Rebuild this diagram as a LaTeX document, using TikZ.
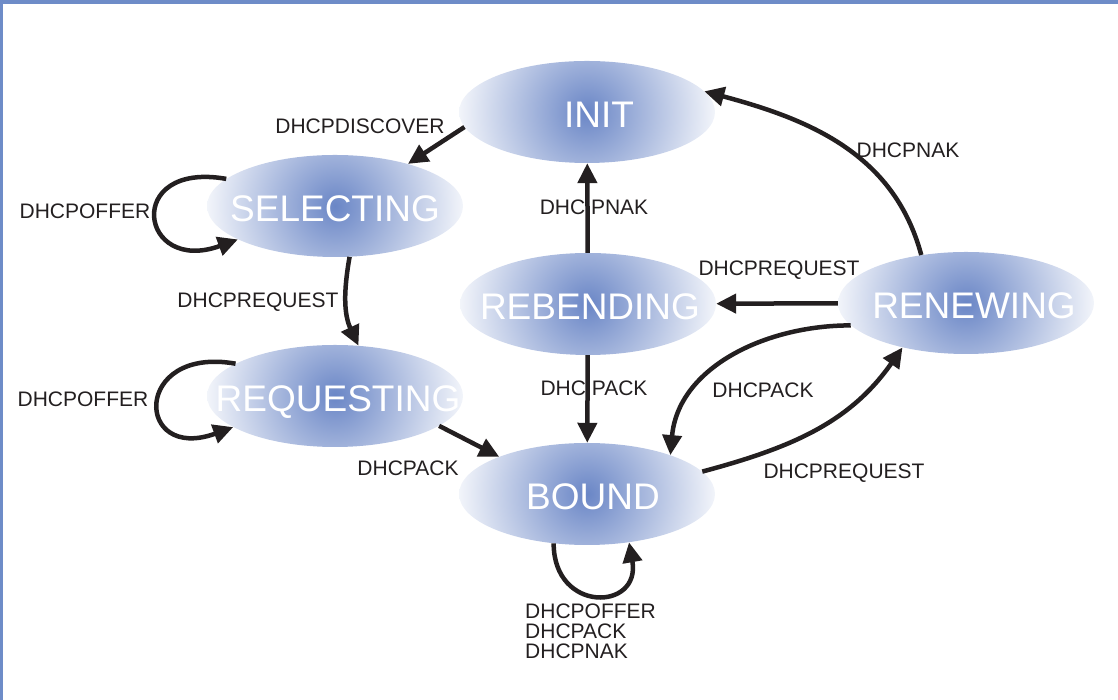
\documentclass[tikz,border=0pt]{standalone}
\usepackage{fontspec}
\setmainfont{Liberation Sans}
\usetikzlibrary{shapes.geometric,arrows.meta}

\definecolor{frameblue}{RGB}{110,140,200}
\definecolor{stateblue}{RGB}{106,134,198}
\definecolor{ink}{RGB}{35,31,32}

\tikzset{
  state/.style={ellipse, minimum width=256pt, minimum height=102pt, inner sep=0pt,
    text=white, font=\fontsize{37}{37}\selectfont,
    path picture={\shade[inner color=stateblue, outer color=white]
      (path picture bounding box.center) circle (140pt);}},
  msg/.style={text=ink, font=\fontsize{21}{20}\selectfont, inner sep=0pt},
  trans/.style={draw=ink, line width=4.5pt, ->},
}
% 状态名: 宽度为零, 可水平微调, 略向下
\newcommand{\st}[2][0pt]{\raisebox{-2.5pt}[\height][0pt]{\makebox[0pt]{\hspace*{#1}#2\hspace*{-#1}}}}

\begin{document}
\begin{tikzpicture}[x=1pt, y=1pt, >={Triangle[length=20pt,width=19pt]}]

% 画布与蓝色边框
\useasboundingbox (0,0) rectangle (1118,700);
\fill[frameblue] (0,696) rectangle (1118,700);
\fill[frameblue] (0,0) rectangle (3,700);

% 状态
\node (init)       [state] at (587,588) {\st[12pt]{INIT}};
\node (selecting)  [state] at (335,494) {\st{SELECTING}};
\node (requesting) [state] at (335,304) {\st[3pt]{REQUESTING}};
\node (rebending)  [state] at (588,396) {\st[2pt]{REBENDING}};
\node (renewing)   [state] at (966,397) {\st[8pt]{RENEWING}};
\node (bound)      [state] at (587,206) {\st[6pt]{BOUND}};

% 状态转移
\draw[trans] (init.187) -- (selecting.30);
\draw[trans] (selecting.166) to[out=170, in=200, distance=105pt] (selecting.199);
\draw[trans] (selecting.286) to[out=-100, in=115] (requesting.65);
\draw[trans] (requesting.162) to[out=170, in=200, distance=105pt] (requesting.197);
\draw[trans] (requesting.344) -- (bound.157);
\draw[trans] (rebending) -- (init);
\draw[trans] (rebending) -- (bound);
\draw[trans] (renewing) -- (rebending);
\draw[trans] (renewing.133) to[out=105, in=-15] (init.10);
\draw[trans] (renewing.191) to[out=180, in=85] (bound.25);
\draw[trans] (bound.11) to[out=15, in=235] (renewing.215);
\draw[trans] (bound.236) to[out=-90, in=-80, distance=70pt] (bound.311);

% 报文标注
\node (mdiscover) [msg] at (360,574) {DHCPDISCOVER};
\node (mofferA)   [msg] at (85,489)  {DHCPOFFER};
\node (mrequestA) [msg] at (258,398) {DHCPREQUEST};
\node (mofferB)   [msg] at (83,301)  {DHCPOFFER};
\node (mackA)     [msg] at (408,232) {DHCPACK};
\node (mnakA)     [msg] at (594,493) {DHC PNAK};
\node (mackB)     [msg] at (594,312) {DHC PACK};
\node (mrequestB) [msg] at (779,430) {DHCPREQUEST};
\node (mnakB)     [msg] at (908,550) {DHCPNAK};
\node (mackC)     [msg] at (763,310) {DHCPACK};
\node (mrequestC) [msg] at (844,227) {DHCPREQUEST};
\node (mbound)    [msg, align=left, anchor=west] at (525,69)
  {DHCPOFFER\\DHCPACK\\DHCPNAK};

\end{tikzpicture}
\end{document}
